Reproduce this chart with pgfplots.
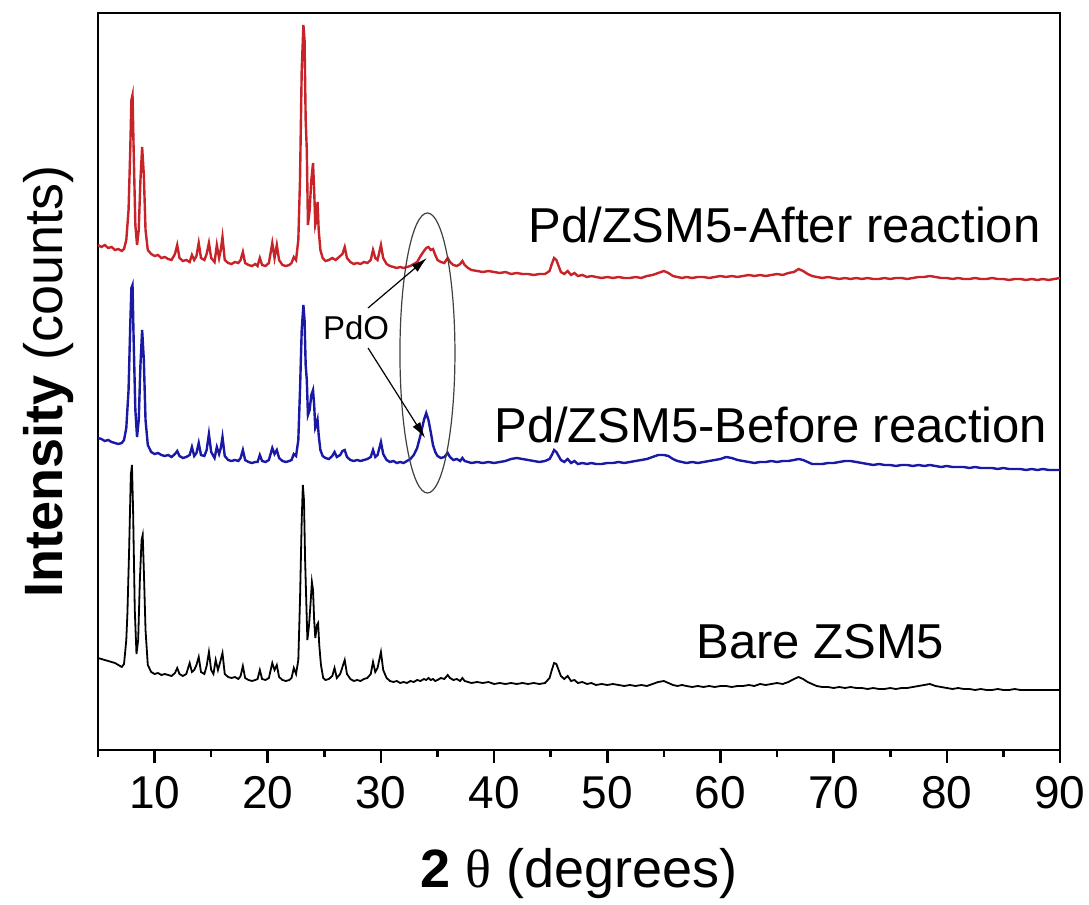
\documentclass[border=0pt]{standalone}
\usepackage{pgfplots}
\usepackage{pgfplotstable}
\usepackage{fontspec}
\pgfplotsset{compat=1.18}
\usetikzlibrary{arrows.meta}
\setmainfont{Liberation Sans}
\newfontfamily\greek{Liberation Serif}

\definecolor{xrdred}{RGB}{200,35,40}
\definecolor{xrdblue}{RGB}{25,25,165}

% XRD patterns (2theta in degrees, intensity with vertical offset, arb. units)
\pgfplotstableread{
x y
5.0 505
5.3 503
5.6 505
5.9 502
6.2 503
6.5 500
6.8 501
7.1 499
7.3 501
7.5 510
7.7 540
7.85 600
7.95 650
8.05 655
8.15 600
8.3 525
8.45 505
8.6 520
8.75 570
8.9 603
9.05 575
9.2 520
9.4 500
9.7 496
10.0 494
10.3 495
10.6 492
10.9 493
11.2 491
11.5 490
11.8 496
12.0 505
12.2 492
12.5 489
12.8 490
13.1 488
13.3 495
13.5 490
13.7 494
13.9 507
14.1 492
14.4 490
14.6 496
14.8 507
15.0 492
15.3 488
15.5 505
15.7 492
15.85 500
16.0 513
16.2 490
16.5 487
16.8 486
17.1 488
17.4 487
17.6 490
17.8 498
18.0 487
18.3 485
18.6 484
18.9 486
19.1 484
19.3 492
19.5 485
19.8 484
20.1 487
20.4 507
20.6 492
20.8 505
21.0 490
21.3 485
21.6 484
21.9 485
22.1 487
22.3 493
22.5 490
22.7 510
22.85 570
23.0 680
23.15 725
23.25 710
23.35 630
23.45 600
23.55 525
23.7 540
23.85 570
24.0 587
24.1 560
24.2 525
24.3 530
24.4 548
24.5 520
24.65 500
24.85 492
25.1 489
25.4 490
25.7 492
26.0 490
26.3 493
26.6 496
26.8 503
27.0 492
27.3 488
27.6 486
27.9 487
28.2 486
28.5 488
28.8 487
29.1 490
29.3 500
29.5 492
29.7 490
30.0 505
30.2 492
30.5 486
30.8 484
31.1 483
31.4 482
31.7 483
32.0 482
32.3 483
32.6 484
32.9 486
33.2 488
33.5 494
33.8 499
34.0 502
34.2 503
34.4 500
34.6 501
34.8 495
35.0 490
35.3 488
35.6 487
35.9 492
36.1 488
36.4 485
36.7 484
37.0 486
37.2 489
37.4 485
37.7 482
38.0 480
38.5 479
39.0 478
39.5 479
40.0 478
40.5 477
41.0 478
41.5 476
42.0 477
42.5 476
43.0 476
43.5 475
44.0 476
44.5 476
44.9 479
45.1 486
45.3 492
45.5 490
45.7 484
45.9 478
46.2 476
46.5 479
46.8 475
47.1 477
47.4 474
47.8 475
48.2 473
48.6 474
49.0 473
49.5 472
50.0 473
50.5 472
51.0 473
51.5 472
52.0 472
52.5 473
53.0 472
53.5 474
54.0 475
54.5 477
55.0 479
55.4 477
55.8 474
56.2 473
56.6 472
57.0 473
57.5 472
58.0 473
58.5 473
59.0 472
59.5 473
60.0 474
60.5 473
61.0 474
61.5 473
62.0 474
62.5 475
63.0 474
63.5 475
64.0 474
64.5 475
65.0 476
65.5 475
66.0 477
66.5 478
66.9 481
67.3 479
67.7 476
68.1 474
68.5 473
69.0 472
69.5 473
70.0 472
70.5 471
71.0 472
71.5 471
72.0 472
72.5 471
73.0 472
73.5 471
74.0 471
74.5 472
75.0 471
75.5 472
76.0 472
76.5 471
77.0 472
77.5 473
78.0 473
78.5 474
79.0 473
79.5 472
80.0 472
80.5 471
81.0 472
81.5 471
82.0 471
82.5 472
83.0 471
83.5 471
84.0 472
84.5 471
85.0 471
85.5 470
86.0 471
86.5 471
87.0 470
87.5 471
88.0 470
88.5 471
89.0 470
89.5 471
90.0 472
}\after

\pgfplotstableread{
x y
5.0 312
5.3 311
5.6 309
5.9 310
6.2 308
6.5 307
6.8 306
7.1 307
7.3 310
7.5 322
7.7 360
7.85 425
7.95 462
8.05 465
8.15 410
8.3 340
8.45 313
8.6 330
8.75 385
8.9 420
9.05 390
9.2 330
9.4 305
9.7 298
10.0 296
10.3 297
10.6 295
10.9 294
11.2 295
11.5 293
11.8 296
12.0 299
12.2 294
12.5 292
12.8 293
13.1 295
13.3 303
13.5 294
13.7 297
13.9 307
14.1 295
14.4 294
14.6 300
14.8 316
15.0 298
15.3 292
15.5 303
15.7 296
15.85 302
16.0 313
16.2 294
16.5 290
16.8 289
17.1 290
17.4 289
17.6 292
17.8 300
18.0 290
18.3 288
18.6 287
18.9 288
19.1 288
19.3 295
19.5 289
19.8 288
20.1 290
20.4 302
20.6 296
20.8 300
21.0 292
21.3 289
21.6 288
21.9 289
22.1 290
22.3 296
22.5 294
22.7 310
22.85 360
23.0 420
23.15 445
23.25 430
23.35 385
23.45 370
23.55 335
23.7 340
23.85 355
24.0 360
24.1 345
24.2 322
24.3 325
24.4 330
24.5 315
24.65 300
24.85 294
25.1 292
25.4 291
25.7 294
25.9 298
26.1 293
26.4 295
26.6 299
26.8 300
27.0 293
27.3 290
27.6 289
27.9 290
28.2 289
28.5 290
28.8 291
29.1 293
29.3 300
29.5 293
29.7 295
30.0 308
30.2 296
30.5 290
30.8 288
31.1 289
31.4 287
31.7 288
32.0 287
32.3 289
32.6 291
32.9 295
33.2 302
33.5 315
33.8 330
34.0 337
34.2 330
34.4 318
34.6 305
34.8 298
35.0 294
35.3 292
35.6 293
35.9 297
36.1 293
36.4 290
36.7 291
37.0 289
37.2 292
37.4 289
37.7 288
38.0 287
38.5 288
39.0 287
39.5 288
40.0 287
40.5 288
41.0 289
41.5 291
42.0 292
42.5 291
43.0 290
43.5 289
44.0 288
44.5 289
44.9 291
45.1 295
45.3 300
45.5 298
45.7 294
45.9 290
46.2 288
46.5 291
46.8 287
47.1 289
47.4 286
47.8 287
48.2 286
48.6 287
49.0 286
49.5 286
50.0 287
50.5 287
51.0 288
51.5 287
52.0 288
52.5 289
53.0 290
53.5 291
54.0 293
54.5 295
55.0 295
55.4 294
55.8 291
56.2 289
56.6 288
57.0 287
57.5 288
58.0 287
58.5 288
59.0 289
59.5 290
60.0 291
60.5 293
61.0 292
61.5 290
62.0 289
62.5 288
63.0 287
63.5 288
64.0 288
64.5 289
65.0 288
65.5 289
66.0 289
66.5 290
66.9 291
67.3 290
67.7 288
68.1 286
68.5 286
69.0 286
69.5 287
70.0 287
70.5 288
71.0 289
71.5 289
72.0 288
72.5 287
73.0 286
73.5 285
74.0 286
74.5 285
75.0 285
75.5 284
76.0 285
76.5 285
77.0 284
77.5 285
78.0 284
78.5 285
79.0 284
79.5 283
80.0 284
80.5 283
81.0 283
81.5 283
82.0 282
82.5 283
83.0 282
83.5 282
84.0 282
84.5 281
85.0 282
85.5 281
86.0 281
86.5 281
87.0 280
87.5 281
88.0 280
88.5 281
89.0 280
89.5 280
90.0 280
}\before

\pgfplotstableread{
x y
5.0 92
5.3 91
5.6 90
5.9 89
6.2 88
6.5 87
6.8 85
7.1 83
7.3 86
7.5 110
7.6 137
7.75 200
7.9 275
8.0 285
8.1 240
8.25 140
8.4 96
8.55 110
8.7 170
8.85 210
8.95 215
9.05 180
9.2 120
9.4 85
9.7 78
10.0 76
10.3 77
10.6 75
10.9 76
11.2 75
11.5 74
11.8 77
12.0 82
12.2 76
12.5 74
12.8 76
13.1 87
13.3 78
13.5 80
13.7 85
13.9 93
14.1 78
14.4 76
14.6 84
14.8 98
15.0 80
15.2 76
15.4 90
15.6 80
15.8 88
16.0 97
16.2 76
16.5 73
16.8 72
17.1 73
17.4 71
17.6 74
17.8 84
18.0 72
18.3 70
18.6 69
18.9 70
19.1 71
19.3 80
19.5 71
19.8 70
20.1 72
20.4 87
20.6 80
20.8 85
21.0 73
21.3 70
21.6 69
21.9 70
22.1 72
22.3 82
22.5 76
22.7 90
22.85 150
23.0 230
23.1 265
23.2 250
23.3 190
23.4 150
23.5 110
23.65 125
23.8 150
23.9 168
24.0 160
24.1 130
24.2 112
24.35 125
24.45 127
24.55 105
24.7 85
24.9 72
25.1 70
25.4 71
25.7 74
25.9 82
26.1 72
26.4 76
26.6 83
26.8 90
27.0 76
27.3 71
27.6 69
27.9 70
28.2 69
28.5 71
28.8 72
29.1 76
29.3 88
29.5 78
29.7 82
30.0 98
30.2 80
30.5 72
30.8 69
31.1 68
31.4 69
31.7 67
32.0 68
32.3 67
32.6 69
32.9 68
33.2 70
33.5 69
33.8 71
34.0 70
34.2 72
34.4 70
34.6 71
34.8 69
35.0 70
35.3 72
35.6 71
35.9 75
36.1 72
36.4 70
36.7 71
37.0 69
37.2 72
37.4 69
37.7 68
38.0 67
38.5 68
39.0 67
39.5 68
40.0 66
40.5 67
41.0 66
41.5 67
42.0 66
42.5 67
43.0 66
43.5 67
44.0 66
44.5 67
44.9 72
45.1 80
45.3 87
45.5 86
45.7 80
45.9 74
46.2 71
46.5 74
46.8 69
47.1 70
47.4 67
47.8 68
48.2 66
48.6 67
49.0 65
49.5 66
50.0 65
50.5 66
51.0 65
51.5 64
52.0 65
52.5 64
53.0 65
53.5 64
54.0 66
54.5 68
55.0 69
55.4 67
55.8 65
56.2 64
56.6 65
57.0 64
57.5 63
58.0 64
58.5 63
59.0 64
59.5 63
60.0 64
60.5 64
61.0 63
61.5 64
62.0 64
62.5 65
63.0 64
63.5 66
64.0 65
64.5 66
65.0 67
65.5 66
66.0 68
66.5 71
66.9 73
67.3 71
67.7 68
68.1 66
68.5 64
69.0 63
69.5 63
70.0 62
70.5 63
71.0 62
71.5 63
72.0 62
72.5 62
73.0 61
73.5 62
74.0 61
74.5 61
75.0 62
75.5 61
76.0 62
76.5 62
77.0 63
77.5 64
78.0 65
78.5 66
79.0 64
79.5 63
80.0 62
80.5 61
81.0 62
81.5 61
82.0 61
82.5 60
83.0 61
83.5 60
84.0 60
84.5 61
85.0 60
85.5 60
86.0 61
86.5 60
87.0 60
87.5 60
88.0 60
88.5 60
89.0 60
89.5 60
90.0 60
}\bare

\begin{document}
\begin{tikzpicture}
\useasboundingbox (-49pt,-77.5pt) rectangle (495.5pt,375pt);
\begin{axis}[
  at={(0pt,0pt)}, anchor=south west,
  scale only axis, width=481pt, height=368.5pt,
  xmin=5, xmax=90, ymin=0, ymax=737,
  xtick={10,20,...,90},
  minor xtick={5,15,25,35,45,55,65,75,85},
  ytick=\empty,
  xtick pos=left,
  tick align=outside,
  major tick length=6.5pt,
  minor tick length=3.5pt,
  axis line style={line width=1.3pt},
  tick style={line width=1.3pt, draw=black},
  /pgf/number format/assume math mode=true,
  xticklabel style={font=\fontsize{23}{23}\selectfont, yshift=-3pt},
  xlabel={\textbf{2} {\greek θ} (degrees)},
  xlabel style={font=\fontsize{27}{27}\selectfont, yshift=-13pt},
  ylabel={\textbf{Intensity} (counts)},
  ylabel style={font=\fontsize{27}{27}\selectfont, yshift=2pt},
  clip=false,
]
\addplot[xrdred, line width=1.2pt] table {\after};
\addplot[xrdblue, line width=1.2pt] table {\before};
\addplot[black, line width=0.9pt] table {\bare};

% outward tick marks along the bottom edge
\pgfplotsinvokeforeach{10,20,30,40,50,60,70,80,90}{
  \draw[line width=1.3pt, black] (axis cs:#1,0) -- ++(0pt,-6.5pt);
}
\pgfplotsinvokeforeach{5,15,25,35,45,55,65,75,85}{
  \draw[line width=1.3pt, black] (axis cs:#1,0) -- ++(0pt,-3.5pt);
}

\node[anchor=base east, font=\fontsize{24.5}{24.5}\selectfont] at (axis cs:88.9,507) {Pd/ZSM5-After reaction};
\node[anchor=base east, font=\fontsize{24.5}{24.5}\selectfont] at (axis cs:89.5,307) {Pd/ZSM5-Before reaction};
\node[anchor=base east, font=\fontsize{24.5}{24.5}\selectfont] at (axis cs:80.4,91) {Bare ZSM5};

\draw[line width=0.6pt, black!75] (axis cs:34.11,397) ellipse [x radius=2.43, y radius=140];
\node[font=\fontsize{16.5}{16.5}\selectfont] at (axis cs:27.8,422) {PdO};
\draw[line width=0.6pt, -{Latex[length=8pt,width=4.5pt]}] (axis cs:28.86,442) -- (axis cs:34.07,492);
\draw[line width=0.6pt, -{Latex[length=8pt,width=4.5pt]}] (axis cs:28.86,402) -- (axis cs:33.9,312);
\end{axis}
\end{tikzpicture}
\end{document}
